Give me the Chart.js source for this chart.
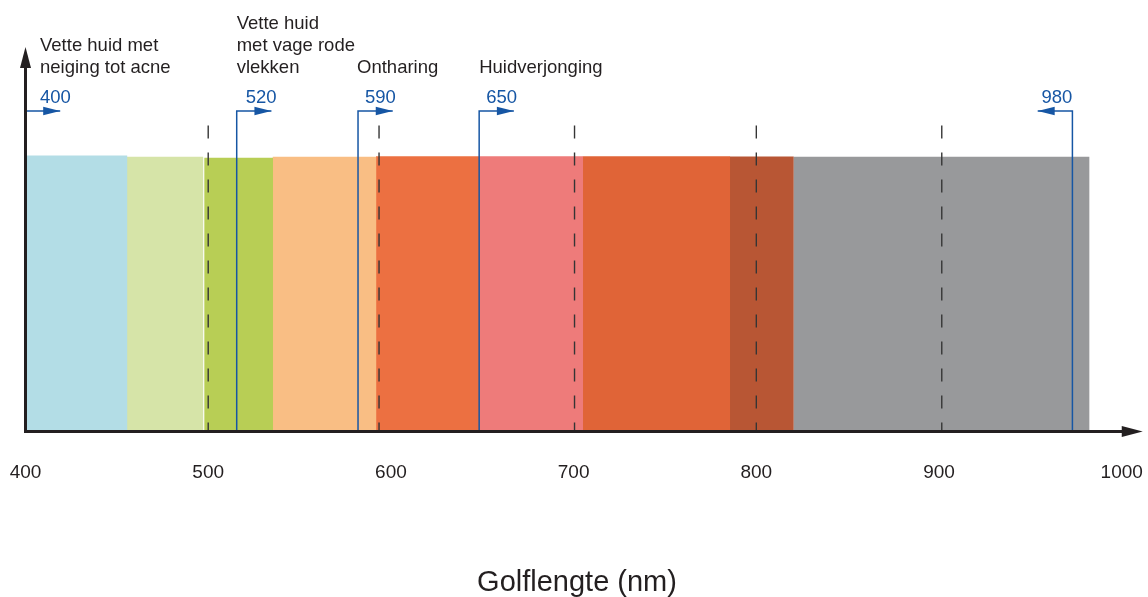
<!DOCTYPE html>
<html><head><meta charset="utf-8">
<script src="https://cdn.jsdelivr.net/npm/chart.js@4.4.1/dist/chart.umd.min.js"></script>
<style>html,body{margin:0;padding:0;background:#fff;}canvas{display:block;}</style>
</head><body>
<canvas id="c" width="1148" height="597"></canvas>
<script>
// ---- data ----
const bandStarts  = [400, 455.5, 497.8, 535.2, 591.8, 648.4, 704.9, 785.4, 820.2];
const bandEnds    = [455.5, 497.4, 535.2, 591.8, 648.4, 704.9, 785.4, 820.2, 982.4];
const bandHeights = [100.5, 100, 99.7, 100, 100.2, 100.2, 100.2, 100.1, 100];
const bandColors  = ['#b3dde6','#d6e4a8','#b8ce55','#f9be84','#ec7041','#ee7b7a','#e06437','#b85634','#98999b'];
const dashPositions = [500, 593.5, 700.5, 800, 901.5];
const dashTop = 111.4;
const markerValues = [400, 515.6, 582, 648.3, 973];
const markerLabels = ['400','520','590','650','980'];
const markerDirections = [1, 1, 1, 1, -1];
const markerNames = [['Vette huid met','neiging tot acne'],['Vette huid','met vage rode','vlekken'],['Ontharing'],['Huidverjonging'],[]];
const markerTop = 116.7;
const xTicks = [400, 500, 600, 700, 800, 900, 1000];
const xTitle = 'Golflengte (nm)';

// ---- style ----
const FONT = '"Liberation Sans", Arial, Helvetica, sans-serif';
const INK = '#231f20';
const BLUE = '#1656a4';
const ARROW_NM = 19;
const SEAM_NM = 0.3;
const nameOffsets = [14.5, 0, -1, 0, 0];
const numOffsets = [14.5, 9, 7, 7, 0];

const datasets = [];
markerValues.forEach((v, i) => datasets.push({
  data: [{x: v, y: 0}, {x: v, y: markerTop}, {x: v + markerDirections[i] * ARROW_NM, y: markerTop}],
  borderColor: BLUE, borderWidth: 1.5, pointRadius: 0, fill: false, order: 1, tension: 0
}));
dashPositions.forEach(v => datasets.push({
  data: [{x: v, y: dashTop}, {x: v, y: 0}],
  borderColor: '#353535', borderWidth: 1.4, borderDash: [13, 14], pointRadius: 0, fill: false, order: 2
}));
bandStarts.forEach((s, i) => {
  const touches = i < bandStarts.length - 1 && bandEnds[i] === bandStarts[i + 1];
  datasets.push({
    data: [{x: s, y: bandHeights[i]}, {x: bandEnds[i] + (touches ? SEAM_NM : 0), y: bandHeights[i]}],
    borderColor: 'rgba(0,0,0,0)', borderWidth: 1, backgroundColor: bandColors[i],
    fill: 'origin', pointRadius: 0, order: 3
  });
});

const overlay = {
  id: 'overlay',
  afterDraw(chart) {
    const ctx = chart.ctx, xs = chart.scales.x, ys = chart.scales.y;
    const y0 = ys.getPixelForValue(0);
    const x0 = xs.getPixelForValue(400);
    const top = chart.chartArea.top;
    ctx.save();
    ctx.fillStyle = BLUE;
    markerValues.forEach((v, i) => {
      const d = markerDirections[i];
      const tx = xs.getPixelForValue(v + d * ARROW_NM);
      const ty = ys.getPixelForValue(markerTop);
      ctx.beginPath();
      ctx.moveTo(tx, ty);
      ctx.lineTo(tx - d * 17, ty - 4.3);
      ctx.lineTo(tx - d * 17, ty + 4.3);
      ctx.closePath();
      ctx.fill();
    });
    ctx.strokeStyle = INK; ctx.fillStyle = INK; ctx.lineWidth = 3;
    ctx.beginPath();
    ctx.moveTo(x0, y0 + 1.5); ctx.lineTo(x0, top + 16);
    ctx.moveTo(x0 - 1.5, y0); ctx.lineTo(xs.getPixelForValue(1000) + 2, y0);
    ctx.stroke();
    ctx.beginPath();
    ctx.moveTo(x0, top); ctx.lineTo(x0 - 5.5, top + 21); ctx.lineTo(x0 + 5.5, top + 21); ctx.closePath();
    ctx.fill();
    const xe = xs.getPixelForValue(1000);
    ctx.beginPath();
    ctx.moveTo(xe + 21, y0); ctx.lineTo(xe, y0 - 5.5); ctx.lineTo(xe, y0 + 5.5); ctx.closePath();
    ctx.fill();
    ctx.font = '18.5px ' + FONT;
    ctx.textBaseline = 'alphabetic';
    markerValues.forEach((v, i) => {
      const px = xs.getPixelForValue(v);
      const d = markerDirections[i];
      ctx.fillStyle = BLUE;
      ctx.textAlign = d > 0 ? 'left' : 'right';
      ctx.fillText(markerLabels[i], px + (d > 0 ? numOffsets[i] : -numOffsets[i]), 102.5);
      ctx.fillStyle = INK;
      ctx.textAlign = 'left';
      const lines = markerNames[i];
      lines.forEach((t, k) => {
        ctx.fillText(t, px + nameOffsets[i], 73 - (lines.length - 1 - k) * 21.8);
      });
    });
    ctx.restore();
  }
};

new Chart(document.getElementById('c'), {
  type: 'line',
  data: {datasets},
  plugins: [overlay],
  options: {
    responsive: false, animation: false,
    layout: {autoPadding: false, padding: {top: 47, left: 25.5, right: 19.5, bottom: 0}},
    plugins: {legend: {display: false}, tooltip: {enabled: false}},
    scales: {
      x: {
        type: 'linear', min: 400, max: 1003.7,
        grid: {display: false, drawTicks: false}, border: {display: false},
        afterBuildTicks(s) { s.ticks = xTicks.map(v => ({value: v})); },
        afterFit(s) { s.height = 165.6; s.paddingLeft = 0; s.paddingRight = 0; s.paddingTop = 0; s.paddingBottom = 0; },
        ticks: {font: {family: FONT, size: 19}, color: INK, padding: 30, maxRotation: 0, autoSkip: false,
                callback: v => String(v)},
        title: {display: true, text: xTitle, font: {family: FONT, size: 29, lineHeight: 1}, color: INK,
                padding: {top: 84, bottom: 0}}
      },
      y: {display: false, min: 0, max: 140}
    }
  }
});
</script>
</body></html>
